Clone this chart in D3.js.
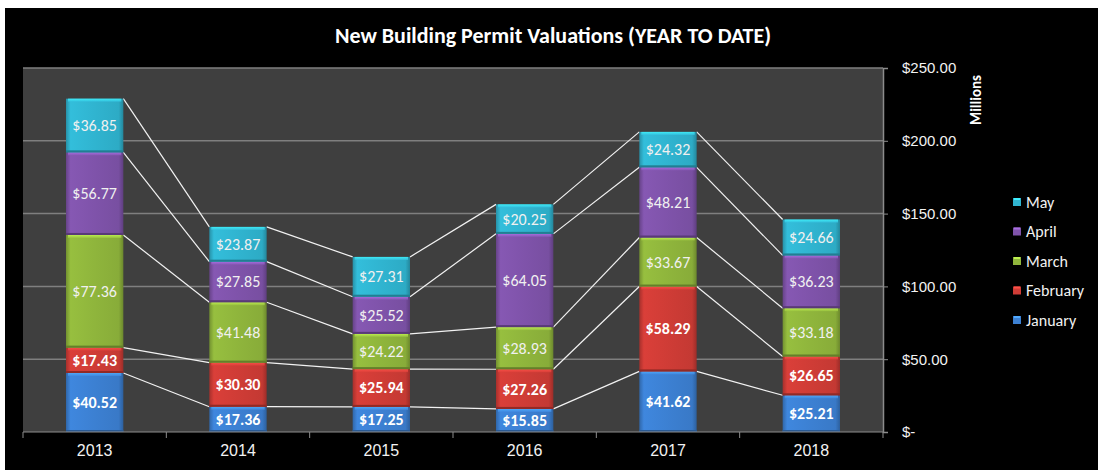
<!DOCTYPE html>
<html>
<head>
<meta charset="utf-8">
<script src="https://cdn.jsdelivr.net/npm/d3@7"></script>
<style>
  body { margin: 0; background: #fff; }
  svg { display: block; font-family: Carlito, Calibri, Lato, sans-serif; }
  .axis path, .axis line { stroke: #8c8c8c; }
  .axis text { fill: #f2f2f2; font-size: 15px; }
</style>
</head>
<body>
<svg width="1098" height="470"></svg>
<script>
const years = ['2013', '2014', '2015', '2016', '2017', '2018'];
const january = [40.52, 17.36, 17.25, 15.85, 41.62, 25.21];
const february = [17.43, 30.30, 25.94, 27.26, 58.29, 26.65];
const march = [77.36, 41.48, 24.22, 28.93, 33.67, 33.18];
const april = [56.77, 27.85, 25.52, 64.05, 48.21, 36.23];
const may = [36.85, 23.87, 27.31, 20.25, 24.32, 24.66];
const yTicks = [0, 50, 100, 150, 200, 250];

const series = [
  { name: 'January', values: january, color: '#3c80d2', bold: true },
  { name: 'February', values: february, color: '#cf3c36', bold: true },
  { name: 'March', values: march, color: '#8fb53c', bold: false },
  { name: 'April', values: april, color: '#7f53aa', bold: false },
  { name: 'May', values: may, color: '#30b4d0', bold: false }
];

const svg = d3.select('svg');

svg.append('rect')
  .attr('x', 5).attr('y', 8)
  .attr('width', 1093).attr('height', 462)
  .attr('fill', '#000');

const plotLeft = 23, plotRight = 883, plotTop = 68, plotBottom = 432;

const x = d3.scaleBand()
  .domain(years)
  .range([plotLeft, plotRight])
  .paddingInner(0.6)
  .paddingOuter(0.3);

const y = d3.scaleLinear()
  .domain([0, 250])
  .range([plotBottom, plotTop]);

// gradients
const defs = svg.append('defs');
series.forEach((s, i) => {
  const c = d3.color(s.color);
  const g = defs.append('linearGradient')
    .attr('id', 'g' + i)
    .attr('x1', 0).attr('x2', 1).attr('y1', 0).attr('y2', 0);
  g.append('stop').attr('offset', '0%').attr('stop-color', c.darker(0.6));
  g.append('stop').attr('offset', '8%').attr('stop-color', c.brighter(0.15));
  g.append('stop').attr('offset', '50%').attr('stop-color', c);
  g.append('stop').attr('offset', '92%').attr('stop-color', c.darker(0.15));
  g.append('stop').attr('offset', '100%').attr('stop-color', c.darker(0.8));
  const v = defs.append('linearGradient')
    .attr('id', 'v' + i)
    .attr('x1', 0).attr('x2', 0).attr('y1', 0).attr('y2', 1);
  v.append('stop').attr('offset', '0%').attr('stop-color', c.brighter(0.9));
  v.append('stop').attr('offset', '100%').attr('stop-color', c.brighter(0.2));
});

// plot area
svg.append('rect')
  .attr('x', plotLeft).attr('y', plotTop)
  .attr('width', plotRight - plotLeft).attr('height', plotBottom - plotTop)
  .attr('fill', '#3f3f3f');

svg.append('g')
  .selectAll('line')
  .data(yTicks.filter(d => d > 0))
  .join('line')
  .attr('x1', plotLeft).attr('x2', plotRight)
  .attr('y1', d => y(d)).attr('y2', d => y(d))
  .attr('stroke', '#7f7f7f')
  .attr('stroke-width', 1.5);

// stack
const table = years.map((yr, i) => {
  const row = { year: yr };
  series.forEach(s => { row[s.name] = s.values[i]; });
  return row;
});
const stacked = d3.stack().keys(series.map(s => s.name))(table);

// series lines
stacked.forEach((layer, si) => {
  for (let i = 0; i < layer.length - 1; i++) {
    svg.append('line')
      .attr('x1', x(years[i]) + x.bandwidth())
      .attr('y1', y(layer[i][1]))
      .attr('x2', x(years[i + 1]))
      .attr('y2', y(layer[i + 1][1]))
      .attr('stroke', '#f2f2f2')
      .attr('stroke-width', 1.2);
  }
});

// bars
stacked.forEach((layer, si) => {
  const s = series[si];
  const g = svg.append('g');
  const seg = g.selectAll('g')
    .data(layer)
    .join('g');
  seg.append('rect')
    .attr('x', d => x(d.data.year))
    .attr('y', d => y(d[1]))
    .attr('width', x.bandwidth())
    .attr('height', d => y(d[0]) - y(d[1]))
    .attr('fill', 'url(#g' + si + ')');
  seg.append('rect')
    .attr('x', d => x(d.data.year) + 2)
    .attr('y', d => y(d[1]))
    .attr('width', x.bandwidth() - 4)
    .attr('height', 3)
    .attr('fill', 'url(#v' + si + ')')
    .attr('opacity', 0.8);
  seg.append('rect')
    .attr('x', d => x(d.data.year))
    .attr('y', d => y(d[0]) - 2)
    .attr('width', x.bandwidth())
    .attr('height', 2)
    .attr('fill', d3.color(s.color).darker(1));
  seg.append('text')
    .attr('x', d => x(d.data.year) + x.bandwidth() / 2)
    .attr('y', d => (y(d[0]) + y(d[1])) / 2 + 5.5)
    .attr('text-anchor', 'middle')
    .attr('fill', s.bold ? '#fff' : '#f0f0f0')
    .style('font-size', '16px')
    .style('font-weight', s.bold ? 'bold' : 'normal')
    .text(d => '$' + (d[1] - d[0]).toFixed(2));
});

// x axis
svg.append('line')
  .attr('x1', plotLeft).attr('x2', plotRight)
  .attr('y1', plotBottom).attr('y2', plotBottom)
  .attr('stroke', '#8c8c8c');
svg.append('g')
  .selectAll('line')
  .data(d3.range(years.length + 1))
  .join('line')
  .attr('x1', i => plotLeft + i * x.step())
  .attr('x2', i => plotLeft + i * x.step())
  .attr('y1', plotBottom).attr('y2', plotBottom + 6)
  .attr('stroke', '#8c8c8c');
svg.append('g')
  .attr('class', 'axis')
  .attr('transform', `translate(0, ${plotBottom})`)
  .call(d3.axisBottom(x).tickSize(0).tickPadding(13))
  .call(g => g.selectAll('text').style('font-size', '16px'))
  .call(g => g.select('.domain').remove());

// y axis (right)
svg.append('g')
  .attr('class', 'axis')
  .attr('transform', `translate(${plotRight}, 0)`)
  .call(d3.axisRight(y)
    .tickValues(yTicks)
    .tickSize(5)
    .tickPadding(14)
    .tickFormat(d => d === 0 ? '$-' : '$' + d.toFixed(2)))
  .call(g => g.select('.domain').attr('stroke-width', 1.5));

svg.append('text')
  .attr('transform', 'translate(981, 100) rotate(-90)')
  .attr('text-anchor', 'middle')
  .attr('fill', '#fff')
  .style('font-size', '15px')
  .style('font-weight', 'bold')
  .text('Millions');

// title
svg.append('text')
  .attr('x', 553)
  .attr('y', 43)
  .attr('text-anchor', 'middle')
  .attr('fill', '#fff')
  .style('font-size', '22px')
  .style('font-weight', 'bold')
  .text('New Building Permit Valuations (YEAR TO DATE)');

// legend
const legend = svg.append('g')
  .selectAll('g')
  .data(series.slice().reverse())
  .join('g')
  .attr('transform', (d, i) => `translate(1013, ${202 + i * 29.5})`);
legend.append('rect')
  .attr('x', 0).attr('y', -4)
  .attr('width', 8).attr('height', 8)
  .attr('fill', d => d.color);
legend.append('rect')
  .attr('x', 1).attr('y', -4)
  .attr('width', 6).attr('height', 2)
  .attr('fill', d => d3.color(d.color).brighter(0.8));
legend.append('text')
  .attr('x', 13).attr('y', 5.5)
  .attr('fill', '#f2f2f2')
  .style('font-size', '16px')
  .text(d => d.name);
</script>
</body>
</html>
